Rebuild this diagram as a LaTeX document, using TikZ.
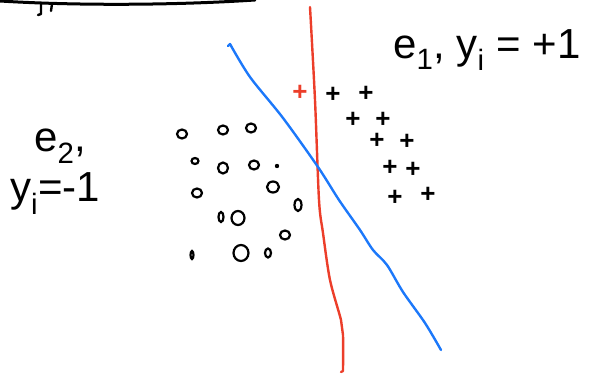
\documentclass[tikz,border=0pt]{standalone}
\usepackage{fontspec}
\setmainfont{Liberation Sans}
\usetikzlibrary{shapes.geometric}
\definecolor{sketchred}{RGB}{236,62,42}
\definecolor{sketchblue}{RGB}{28,120,250}
\begin{document}
\begin{tikzpicture}[x=1pt,y=-1pt,
  pen/.style={line width=2.4pt,line cap=round,line join=round},
  plusmark/.style={font=\bfseries\fontsize{26}{26}\selectfont,inner sep=0pt},
  circmark/.style={draw,ellipse,line width=2.2pt,minimum width=10pt,minimum height=9pt,inner sep=0pt},
  label/.style={font=\fontsize{42}{50}\selectfont,inner sep=0pt,anchor=west}]
\useasboundingbox (0,0) rectangle (595,377);
% top-left cut-off stroke
\draw[pen,line width=3pt] (0,1) .. controls (80,6) and (180,5) .. (255,0);
\draw[pen] (41,4) -- (41,14) -- (38,15);
\draw[pen] (52,4) -- (51,11);
% red separator
\draw[pen,sketchred] plot[smooth,tension=0.5] coordinates {(310,7) (315,100) (319,200) (323,233) (330,280) (341,320) (343,335) (343,371)} -- (341,372);
% blue separator
\draw[pen,sketchblue] (228,46) -- (230,44) -- plot[smooth,tension=0.5] coordinates {(230,44) (250,77) (283,118) (318,167) (339,200) (360,230) (373,250) (387,265) (403,292) (425,323) (441,350)};
% plus markers
\node[plusmark] (p1) at (333,95) {+};
\node[plusmark] (p2) at (366,94) {+};
\node[plusmark] (p3) at (353,120) {+};
\node[plusmark] (p4) at (383,120) {+};
\node[plusmark] (p5) at (377,141) {+};
\node[plusmark] (p6) at (407,142) {+};
\node[plusmark] (p7) at (390,168) {+};
\node[plusmark] (p8) at (413,170) {+};
\node[plusmark] (p9) at (395,198) {+};
\node[plusmark] (p10) at (428,195) {+};
\node[plusmark,text=sketchred] (pr) at (300,93) {+};
% circle markers
\begin{scope}[every node/.style={circmark}]
\node (c1) at (182,134) {};
\node (c2) at (223,130) {};
\node (c3) at (251,128) {};
\node[minimum width=7pt,minimum height=6pt] (c4) at (195,161) {};
\node[minimum width=10pt,minimum height=11pt] (c5) at (223,168) {};
\node (c6) at (254,165) {};
\node (c7) at (197,193) {};
\node[minimum width=12pt,minimum height=11pt] (c8) at (273,187) {};
\node[minimum width=7pt,minimum height=12pt] (c9) at (298,205) {};
\node[minimum width=5pt,minimum height=10pt] (c10) at (221,217) {};
\node[minimum width=13pt,minimum height=14pt] (c11) at (238,218) {};
\node (c12) at (285,235) {};
\node[minimum width=3pt,minimum height=8pt] (c13) at (192,255) {};
\node[minimum width=15pt,minimum height=16pt] (c14) at (241,253) {};
\node[minimum width=6pt,minimum height=9pt] (c15) at (268,253) {};
\end{scope}
\fill (277,166) circle (2.2pt);
% labels
\node[label] (e1) at (393,50) {e\textsubscript{1}, y\textsubscript{i} = +1};
\node[label,align=left] (e2) at (10,172) {\hspace*{24pt}e\textsubscript{2},\\y\textsubscript{i}=-1};
\end{tikzpicture}
\end{document}
